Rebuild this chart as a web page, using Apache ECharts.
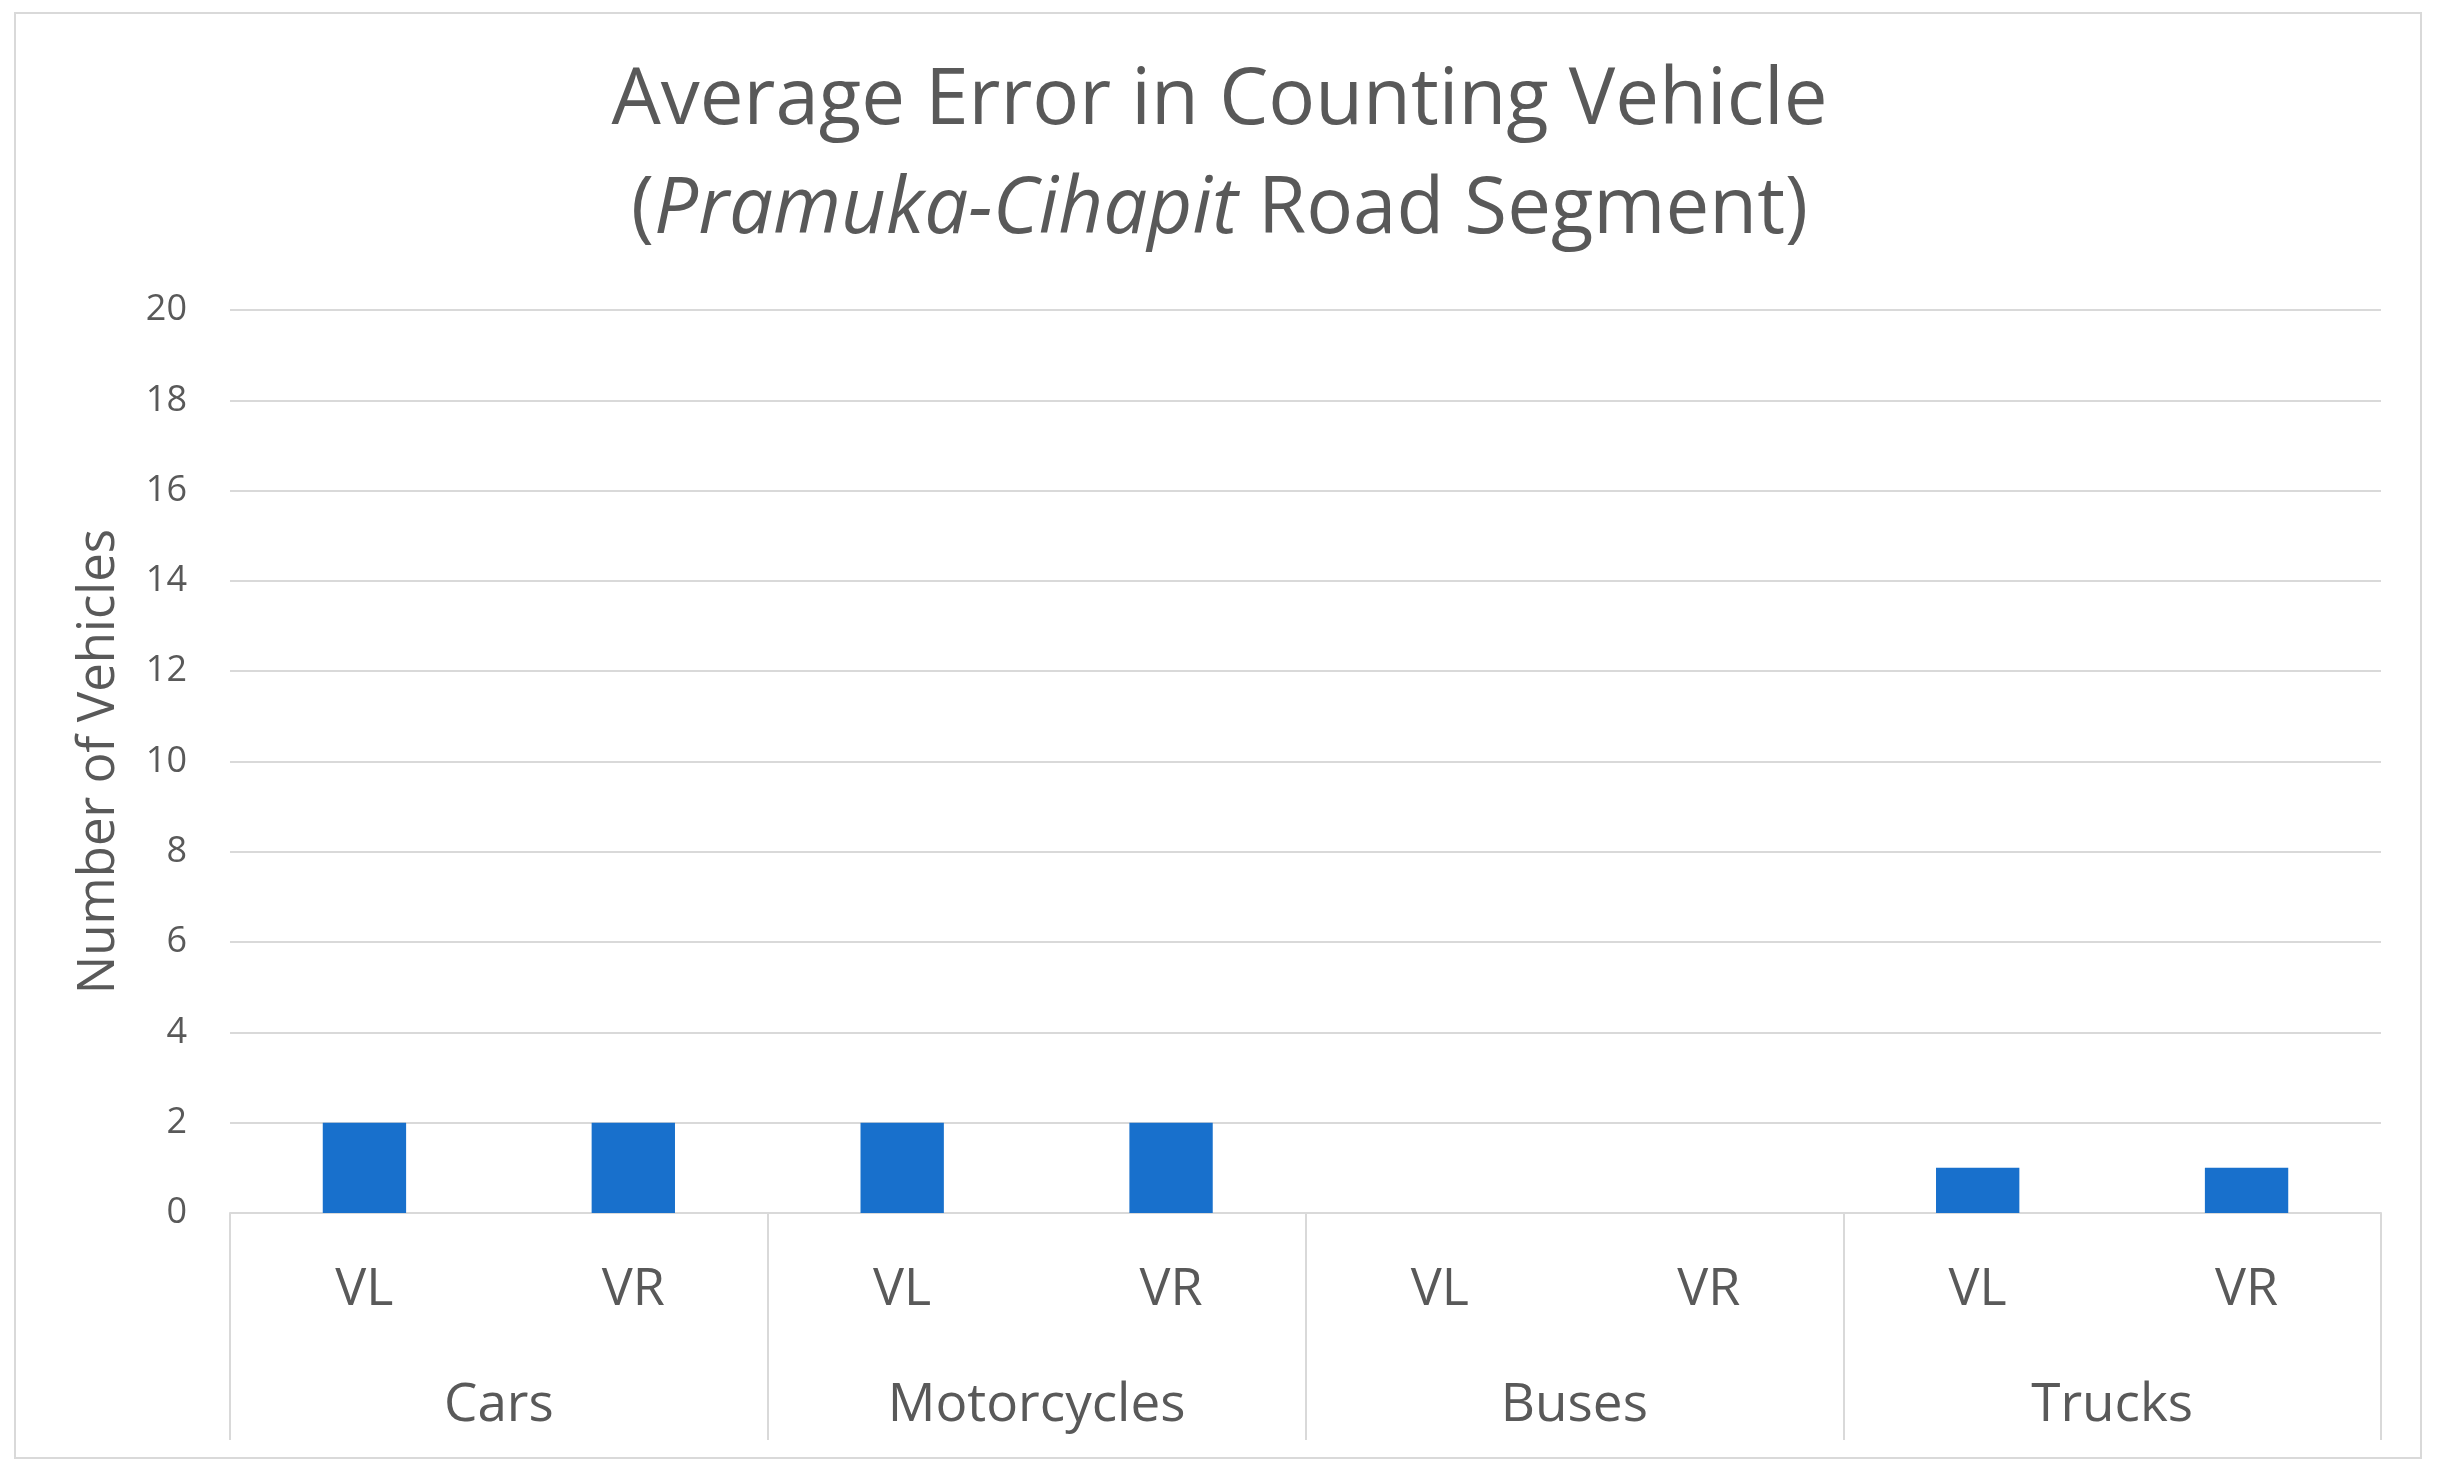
<!DOCTYPE html>
<html>
<head>
<meta charset="utf-8">
<script src="https://cdn.jsdelivr.net/npm/echarts@6/dist/echarts.min.js"></script>
<style>
  html, body { margin: 0; padding: 0; background: #fff; }
  #chart { width: 2439px; height: 1473px; }
</style>
</head>
<body>
<div id="chart"></div>
<script>
// data
var groups = ['Cars', 'Motorcycles', 'Buses', 'Trucks'];
var sides = ['VL', 'VR', 'VL', 'VR', 'VL', 'VR', 'VL', 'VR'];
var errors = [2, 2, 2, 2, 0, 0, 1, 1];
var yTicks = { min: 0, max: 20, step: 2 };

var txt = '#595959', line = '#d9d9d9', font = 'Open Sans';
var chart = echarts.init(document.getElementById('chart'));

chart.setOption({
  backgroundColor: '#fff',
  animation: false,
  textStyle: { fontFamily: font },
  graphic: [{
    type: 'rect',
    shape: { x: 15, y: 13, width: 2406, height: 1445 },
    style: { fill: 'none', stroke: line, lineWidth: 2 }
  }],
  title: {
    left: 'center',
    top: 42,
    text: '{n|Average Error in Counting Vehicle}\n{n|(}{i|Pramuka-Cihapit}{n| Road Segment)}',
    textStyle: {
      fontWeight: 'normal',
      rich: {
        n: { fontSize: 78, color: txt, fontFamily: font, fontWeight: 'normal', lineHeight: 109 },
        i: { fontSize: 78, color: txt, fontFamily: font, fontWeight: 'normal', fontStyle: 'italic', lineHeight: 109 }
      }
    }
  },
  grid: { left: 230, right: 58, top: 310, bottom: 260 },
  xAxis: [{
    type: 'category',
    data: sides,
    axisLine: { lineStyle: { color: line, width: 2 } },
    axisTick: { show: false },
    axisLabel: { color: txt, fontSize: 52, margin: 51 }
  }, {
    // group row: ticks act as the separators between vehicle types
    type: 'category',
    data: groups,
    position: 'bottom',
    axisLine: { show: false },
    axisTick: { show: true, length: 227, lineStyle: { color: line, width: 2 } },
    axisLabel: { color: txt, fontSize: 53, margin: 166 }
  }],
  yAxis: {
    type: 'value',
    min: yTicks.min,
    max: yTicks.max,
    interval: yTicks.step,
    name: 'Number of Vehicles',
    nameLocation: 'middle',
    nameGap: 105,
    nameTextStyle: { color: txt, fontSize: 51 },
    axisLine: { show: false },
    axisTick: { show: false },
    axisLabel: { color: txt, fontSize: 36, margin: 43 },
    splitLine: { lineStyle: { color: line, width: 2 } }
  },
  series: [{
    type: 'bar',
    data: errors,
    barWidth: '31%',
    itemStyle: { color: '#1870cc' }
  }]
});
</script>
</body>
</html>
